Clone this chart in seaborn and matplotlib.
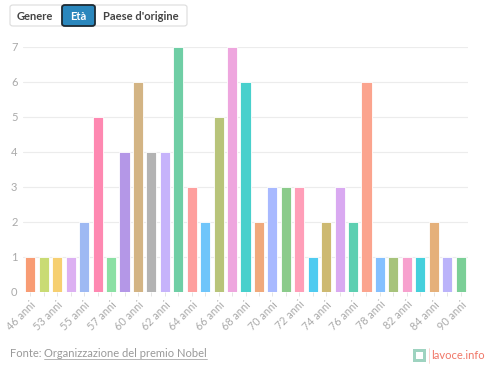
import matplotlib
matplotlib.use("Agg")
import matplotlib.pyplot as plt
import seaborn as sns
import pandas as pd
from matplotlib.patches import FancyBboxPatch, Rectangle
from matplotlib.lines import Line2D

# età dei vincitori (anni) e numero di premiati
ages = [46, 48, 53, 54, 55, 56, 57, 59, 60, 61, 62, 63, 64, 65, 66, 67, 68,
        69, 70, 71, 72, 73, 74, 75, 76, 77, 78, 79, 82, 83, 84, 85, 90]
counts = [1, 1, 1, 1, 2, 5, 1, 4, 6, 4, 4, 7, 3, 2, 5, 7, 6,
          2, 3, 3, 3, 1, 2, 3, 2, 6, 1, 1, 1, 1, 2, 1, 1]
colors = ["#F89C74", "#C9DB74", "#F6CF71", "#DCB0F2", "#9EB9F3", "#FE88B1",
          "#8BE0A4", "#B497E7", "#D3B484", "#B3B3B3", "#C6B3FB", "#6FCEA5",
          "#FE9F9E", "#6FC5FA", "#B8C47A", "#EEA6DE", "#48D0CC", "#F0A97B",
          "#A8B9FF", "#8BCB8B", "#FF9EB8", "#4FCBF0", "#CDB971", "#D9A9F1",
          "#5DCFB1", "#FBA48E", "#84C0FF", "#A7C37B", "#F7A1CE", "#45D0DC",
          "#E5B07A", "#BBB3FA", "#7BCF97"]
labels = [f"{a} anni" for a in ages]

df = pd.DataFrame({"eta": labels, "n": counts})

sns.set_theme(style="white")
plt.rcParams["font.family"] = ["Lato", "DejaVu Sans"]

fig = plt.figure(figsize=(5, 3.69), dpi=100)
ax = fig.add_axes([0.046, 0.209, 0.89, 0.664])

sns.barplot(data=df, x="eta", y="n", hue="eta", palette=colors, legend=False,
            width=0.75, edgecolor="white", linewidth=0.6, saturation=1, ax=ax)

ax.set_ylim(0, 7)
ax.set_xlim(-0.55, len(ages) - 0.45)
ax.set_yticks(range(0, 8))
ax.set_yticklabels([str(i) for i in range(0, 8)], color="#aaaaaa", fontsize=8)
ax.yaxis.grid(True, color="#ececec", linewidth=0.8)
ax.set_axisbelow(True)
ax.tick_params(axis="y", length=0, pad=4)

ax.set_xticks(range(len(ages)))
ax.set_xticklabels([lab if i % 2 == 0 else "" for i, lab in enumerate(labels)],
                   rotation=45, ha="right", rotation_mode="anchor",
                   color="#aaaaaa", fontsize=7.8)
ax.tick_params(axis="x", length=3, color="#e0e0e0", width=0.6, pad=2, bottom=True)
ax.set_xlabel("")
ax.set_ylabel("")
for s in ax.spines.values():
    s.set_visible(False)

# pulsanti in alto
W, H = 500, 369
def px(x, y):
    return x / W, 1 - y / H

outer = FancyBboxPatch(px(10, 26), 177 / W, 21 / H, boxstyle="round,pad=0,rounding_size=0.006",
                       transform=fig.transFigure, facecolor="white", edgecolor="#dcdcdc", linewidth=0.8)
fig.patches.append(outer)
sel = FancyBboxPatch(px(62, 26), 33 / W, 21 / H, boxstyle="round,pad=0,rounding_size=0.006",
                     transform=fig.transFigure, facecolor="#2A87BD", edgecolor="#1d2a33", linewidth=1.3)
fig.patches.append(sel)
fig.text(*px(35, 16), "Genere", ha="center", va="center", fontsize=8, weight="bold", color="#444444")
fig.text(*px(78.5, 16), "Età", ha="center", va="center", fontsize=8, weight="bold", color="white")
fig.text(*px(141, 16), "Paese d'origine", ha="center", va="center", fontsize=8, weight="bold", color="#444444")

# fonte
t1 = fig.text(*px(10, 357), "Fonte: ", ha="left", va="baseline", fontsize=8, color="#999999")
fig.canvas.draw()
r = fig.canvas.get_renderer()
bb = t1.get_window_extent(r)
t2 = fig.text(bb.x1 / W, 1 - 357 / H, "Organizzazione del premio Nobel", ha="left", va="baseline",
              fontsize=8, color="#999999")
bb2 = t2.get_window_extent(r)
fig.add_artist(Line2D([bb2.x0 / W, bb2.x1 / W], [1 - 359 / H] * 2, transform=fig.transFigure,
                      color="#aaaaaa", linewidth=0.6))

# logo
fig.patches.append(Rectangle(px(413, 362), 13 / W, 13 / H, transform=fig.transFigure,
                             facecolor="#9ED3C0", edgecolor="none"))
fig.patches.append(Rectangle(px(416, 359), 7 / W, 7 / H, transform=fig.transFigure,
                             facecolor="white", edgecolor="none"))
fig.add_artist(Line2D([429 / W] * 2, [1 - 348 / H, 1 - 363 / H], transform=fig.transFigure,
                      color="#f5c8c0", linewidth=0.5))
fig.text(*px(431, 355.5), "lavoce.info", ha="left", va="center", fontsize=8, color="#F07566")

fig.savefig("out.png", dpi=100)
